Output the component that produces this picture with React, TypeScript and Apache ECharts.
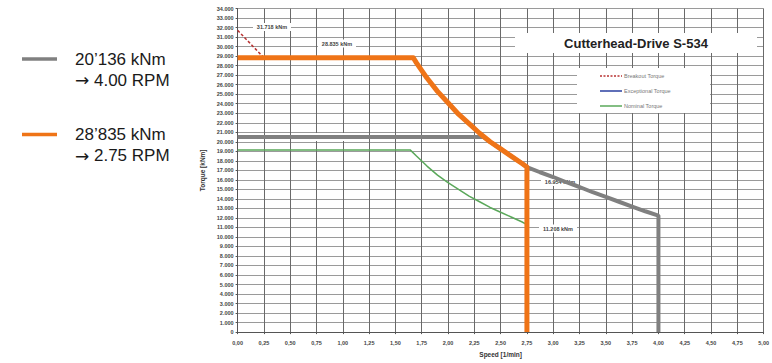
import React, { useEffect, useRef } from "react";
import * as echarts from "echarts";

// Speed [1/min] vs torque [kNm]
const exceptionalCurve: [number, number][] = [
  [0, 20500], [2.34, 20500], [2.4, 20000], [2.5, 19250], [2.6, 18500], [2.7, 17750], [2.75, 17350],
  [2.875, 16800], [3.0, 16300], [3.125, 15750], [3.25, 15250], [3.375, 14700], [3.5, 14200],
  [3.625, 13700], [3.75, 13200], [3.875, 12700], [4.0, 12250], [4.0, 0],
];
const highlightCurve: [number, number][] = [
  [0, 28835], [1.67, 28835], [1.7, 28300], [1.8, 26700], [1.9, 25300], [2.0, 24100],
  [2.1, 22900], [2.2, 21900], [2.3, 20900], [2.4, 20000], [2.5, 19250], [2.6, 18500],
  [2.7, 17750], [2.75, 17350], [2.75, 0],
];
const nominalCurve: [number, number][] = [
  [0, 19150], [1.64, 19150], [1.7, 18500], [1.8, 17450], [1.9, 16500], [2.0, 15700],
  [2.1, 15000], [2.2, 14300], [2.3, 13700], [2.4, 13100], [2.5, 12600], [2.6, 12100],
  [2.7, 11600], [2.75, 11300],
];
const breakoutCurve: [number, number][] = [
  [0, 31718], [0.25, 28835],
];

const chartTitle = "Cutterhead-Drive S-534";
const legendNames = ["Breakout Torque", "Exceptional Torque", "Nominal Torque"];
const annotationTexts = ["31.718 kNm", "28.835 kNm", "20.136 kNm", "16.954 kNm", "11.208 kNm"];
const sideLegend = [
  ["20\u2019136 kNm", "4.00 RPM"],
  ["28\u2019835 kNm", "2.75 RPM"],
];
const xName = "Speed [1/min]";
const yName = "Torque [kNm]";

const GRAY = "#808080";
const ORANGE = "#ef7417";
const GREEN = "#5aa85a";
const RED = "#b83232";
const BLUE = "#2a3fa0";

export default function App() {
  const ref = useRef<HTMLDivElement>(null);
  useEffect(() => {
    if (!ref.current) return;
    const chart = echarts.init(ref.current, null, { renderer: "svg" });
    const smallFont = { fontFamily: "Liberation Sans, Arial, sans-serif", fontSize: 5.5, fontWeight: "bold" as const, color: "#444" };

    const annPos: [number, number][] = [
      [272, 27], [337, 43.5], [325, 137], [560, 182], [558, 228.5],
    ];
    const annGraphics: any[] = [];
    annotationTexts.forEach((t, i) => {
      const [x, y] = annPos[i];
      annGraphics.push({
        type: "rect", z: 1, shape: { x: x - 19, y: y - 4, width: 38, height: 8 },
        style: { fill: "#fff" },
      });
      annGraphics.push({
        type: "text", z: 1, x, y,
        style: { text: t, textAlign: "center", textVerticalAlign: "middle", fill: "#444",
          font: "bold 5.5px Liberation Sans, Arial, sans-serif" },
      });
    });

    const legColors = [RED, BLUE, GREEN];
    const legGraphics: any[] = [
      { type: "rect", z: 3, shape: { x: 577, y: 68, width: 133, height: 45 }, style: { fill: "#fff" } },
    ];
    legendNames.forEach((n, i) => {
      const y = 76 + i * 15;
      legGraphics.push({
        type: "line", z: 3, shape: { x1: 600, y1: y, x2: 622, y2: y },
        style: { stroke: legColors[i], lineWidth: 1.5, lineDash: i === 0 ? [2, 1.5] : null },
      });
      legGraphics.push({
        type: "text", z: 3, x: 624, y,
        style: { text: n, textAlign: "left", textVerticalAlign: "middle", fill: "#777",
          font: "5.5px Liberation Sans, Arial, sans-serif" },
      });
    });

    const sideGraphics: any[] = [];
    const sideColors = [GRAY, ORANGE];
    const sideY = [59, 134.5];
    sideLegend.forEach((lines, i) => {
      const y = sideY[i];
      sideGraphics.push({
        type: "line", z: 3, shape: { x1: 22, y1: y, x2: 57, y2: y },
        style: { stroke: sideColors[i], lineWidth: 3.5 },
      });
      sideGraphics.push({
        type: "text", z: 3, x: 75, y,
        style: { text: lines[0], textAlign: "left", textVerticalAlign: "middle", fill: "#1a1a1a",
          font: "17px Liberation Sans, Arial, sans-serif" },
      });
      sideGraphics.push({
        type: "text", z: 3, x: 75, y: y + 21,
        style: {
          text: "{a|\u2192} " + lines[1], textAlign: "left", textVerticalAlign: "middle", fill: "#1a1a1a",
          font: "17px Liberation Sans, Arial, sans-serif",
          rich: { a: { fontFamily: "DejaVu Sans", fontSize: 17, fill: "#1a1a1a", color: "#1a1a1a" } },
        },
      });
    });

    chart.setOption({
      animation: false,
      backgroundColor: "#fff",
      grid: { left: 237.6, right: 6.4, top: 8.6, bottom: 28, containLabel: false },
      xAxis: {
        type: "value", min: 0, max: 5, interval: 0.25,
        name: xName, nameLocation: "middle", nameGap: 17,
        nameTextStyle: { ...smallFont, fontSize: 6.5, color: "#333" },
        axisLine: { show: true, lineStyle: { color: "#555", width: 1 } },
        axisTick: { show: true, length: 2, lineStyle: { color: "#555" } },
        axisLabel: { ...smallFont, margin: 8, formatter: (v: number) => v.toFixed(2).replace(".", ",") },
        splitLine: { show: true, lineStyle: { color: "#6a6a6a", width: 1 } },
      },
      yAxis: {
        type: "value", min: 0, max: 34000, interval: 1000,
        name: yName, nameLocation: "middle", nameGap: 30, nameRotate: 90,
        nameTextStyle: { ...smallFont, fontSize: 6.5, color: "#333" },
        axisLine: { show: true, lineStyle: { color: "#555", width: 1 } },
        axisTick: { show: true, length: 2, lineStyle: { color: "#555" } },
        axisLabel: { ...smallFont, margin: 4,
          formatter: (v: number) => (v === 0 ? "0" : `${Math.round(v / 1000)}.000`) },
        splitLine: { show: true, lineStyle: { color: "#9a9a9a", width: 1 } },
      },
      series: [
        { name: legendNames[2], type: "line", data: nominalCurve, showSymbol: false, z: 3,
          lineStyle: { color: GREEN, width: 1.5 } },
        { name: legendNames[1], type: "line", data: exceptionalCurve, showSymbol: false, z: 4,
          lineStyle: { color: GRAY, width: 4 } },
        { name: legendNames[0], type: "line", data: breakoutCurve, showSymbol: false, z: 5,
          lineStyle: { color: RED, width: 1.5, type: [3, 2] } },
        { name: "highlight", type: "line", data: highlightCurve, showSymbol: false, z: 6,
          lineStyle: { color: ORANGE, width: 5, join: "round" } },
      ],
      graphic: [
        ...annGraphics,
        { type: "rect", z: 3, shape: { x: 515, y: 33, width: 242, height: 20 }, style: { fill: "#fff" } },
        { type: "text", z: 3, x: 636, y: 43.5,
          style: { text: chartTitle, textAlign: "center", textVerticalAlign: "middle", fill: "#222",
            font: "bold 13px Liberation Sans, Arial, sans-serif" } },
        ...legGraphics,
        ...sideGraphics,
      ],
    });
    return () => chart.dispose();
  }, []);
  return <div ref={ref} style={{ position: "fixed", left: 0, top: 0, width: 772, height: 363 }} />;
}
